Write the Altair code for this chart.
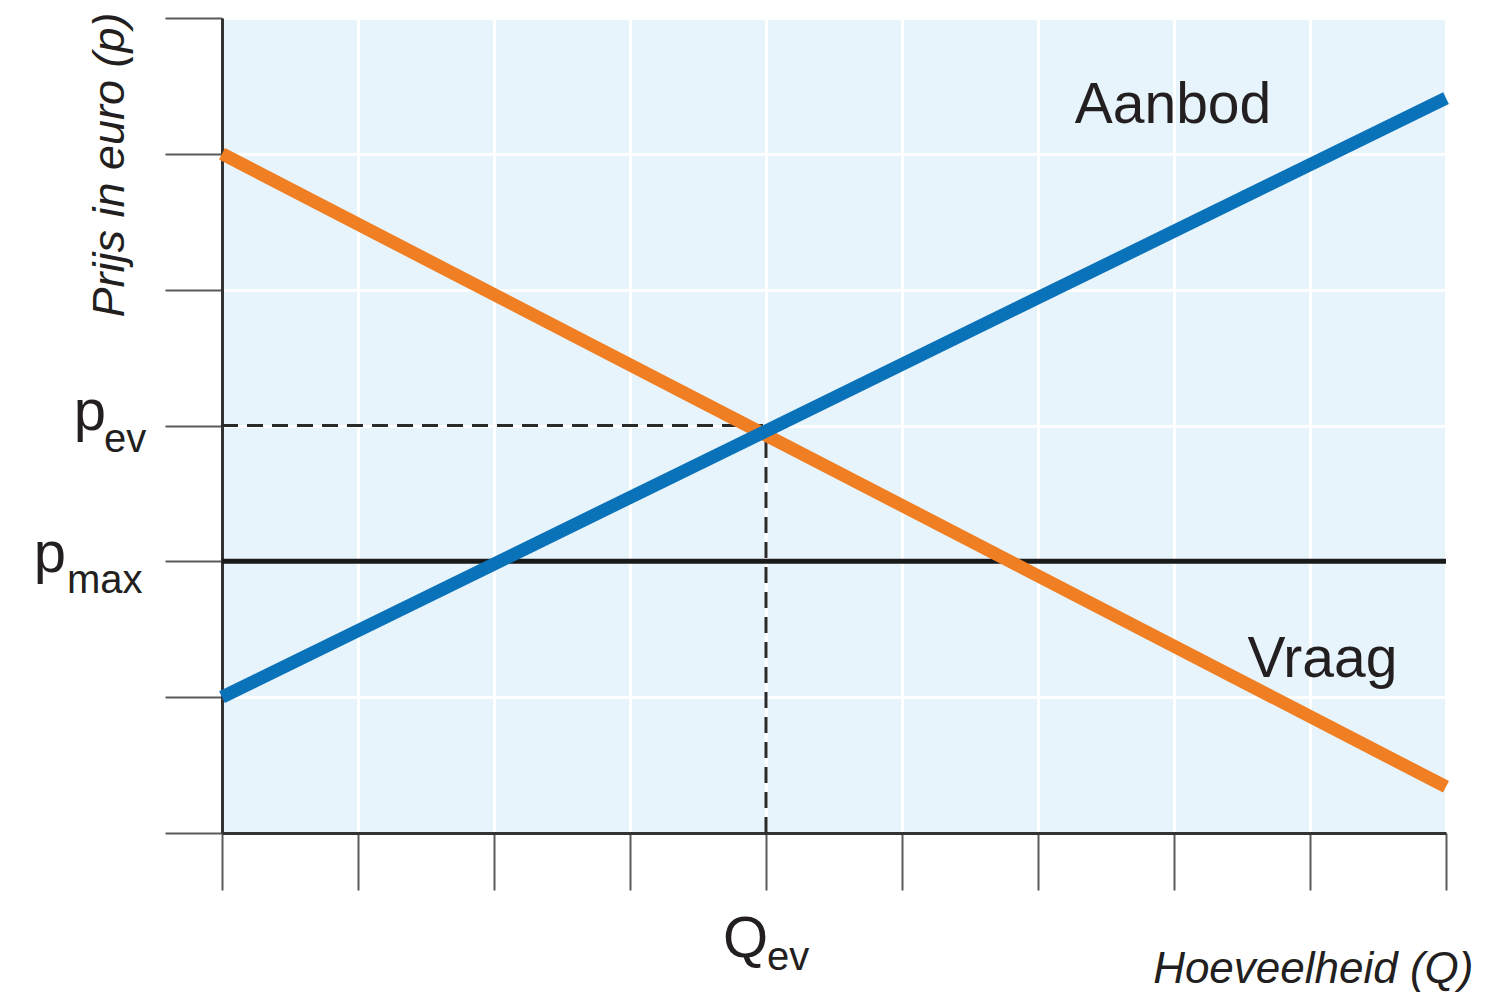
import altair as alt
import pandas as pd

# ---- data ----
quantity = [0, 9]
supply_price = [1.0, 5.41]
demand_price = [5.0, 0.34]
p_max = 2.0
q_ev = 4.0
p_ev = 3.0
x_ticks = list(range(10))
y_ticks = list(range(7))

supply_name = "Aanbod"
demand_name = "Vraag"
supply_label_pos = (6.27, 5.23)
demand_label_pos = (7.54, 1.15)

x_title = "Hoeveelheid (Q)"
y_title = "Prijs in euro (p)"

FONT = "Liberation Sans"
TXT = "#231f20"
BLUE = "#0a72b9"
ORANGE = "#f07e22"

xs = alt.Scale(domain=[0, 9], nice=False, zero=False)
ys = alt.Scale(domain=[0, 6], nice=False, zero=False)

x_axis = alt.Axis(
    values=x_ticks, labels=False, ticks=True, tickSize=57, tickColor="#5a5a5a",
    tickWidth=2, domainColor="#333333", domainWidth=3, grid=True,
    gridColor="#ffffff", gridWidth=3, gridOpacity=1, title=x_title,
    titleFont=FONT, titleFontSize=44, titleFontStyle="italic",
    titleFontWeight="normal", titleColor=TXT, titleAlign="right",
    titleBaseline="alphabetic", titleX=1251, titleY=149,
)
y_axis = alt.Axis(
    values=y_ticks, labels=False, ticks=True, tickSize=57, tickColor="#5a5a5a",
    tickWidth=2, domainColor="#333333", domainWidth=3, grid=True,
    gridColor="#ffffff", gridWidth=3, gridOpacity=1, title=y_title,
    titleFont=FONT, titleFontSize=45, titleFontStyle="italic",
    titleFontWeight="normal", titleColor=TXT, titleAngle=270,
    titleAlign="right", titleBaseline="alphabetic", titleX=-99, titleY=-6,
)


def X():
    return alt.X("q:Q", scale=xs, axis=x_axis)


def Y():
    return alt.Y("p:Q", scale=ys, axis=y_axis)


def line(qs, ps, color, width, dash=None):
    df = pd.DataFrame({"q": qs, "p": ps})
    kw = dict(color=color, strokeWidth=width, clip=False)
    if dash is not None:
        kw["strokeDash"] = dash
    return alt.Chart(df).mark_line(**kw).encode(x=X(), y=Y())


def label(text, q, p, size, dx, dy, align):
    df = pd.DataFrame({"q": [q], "p": [p], "t": [text]})
    return alt.Chart(df).mark_text(
        font=FONT, fontSize=size, color=TXT, align=align,
        baseline="alphabetic", dx=dx, dy=dy,
    ).encode(x=X(), y=Y(), text="t:N")


layers = [
    line([0, q_ev], [p_ev, p_ev], "#2a2a2a", 3, [16, 9]),
    line([q_ev, q_ev], [0, p_ev], "#2a2a2a", 3, [16, 9]),
    line([quantity[0], quantity[-1]], [p_max, p_max], "#1a1a1a", 5),
    line(quantity, demand_price, ORANGE, 13),
    line(quantity, supply_price, BLUE, 13),
    label(supply_name, supply_label_pos[0], supply_label_pos[1], 57, 0, 0, "left"),
    label(demand_name, demand_label_pos[0], demand_label_pos[1], 57, 0, 0, "left"),
    label("p", 0, p_ev, 58, -116, 4, "right"),
    label("ev", 0, p_ev, 40, -118, 26, "left"),
    label("p", 0, p_max, 58, -156, 11, "right"),
    label("max", 0, p_max, 40, -155, 32, "left"),
    label("Q", q_ev, 0, 58, 2, 124, "right"),
    label("ev", q_ev, 0, 40, 1, 137, "left"),
]

chart = alt.layer(*layers).properties(
    width=1224,
    height=815,
    autosize=alt.AutoSizeParams(type="none"),
    padding={"left": 214, "top": 10, "right": 41, "bottom": 159},
    background="#ffffff",
).configure_view(fill="#e8f4fc", stroke="transparent")

chart.save("out.html", embed_options={"renderer": "svg", "actions": False})
